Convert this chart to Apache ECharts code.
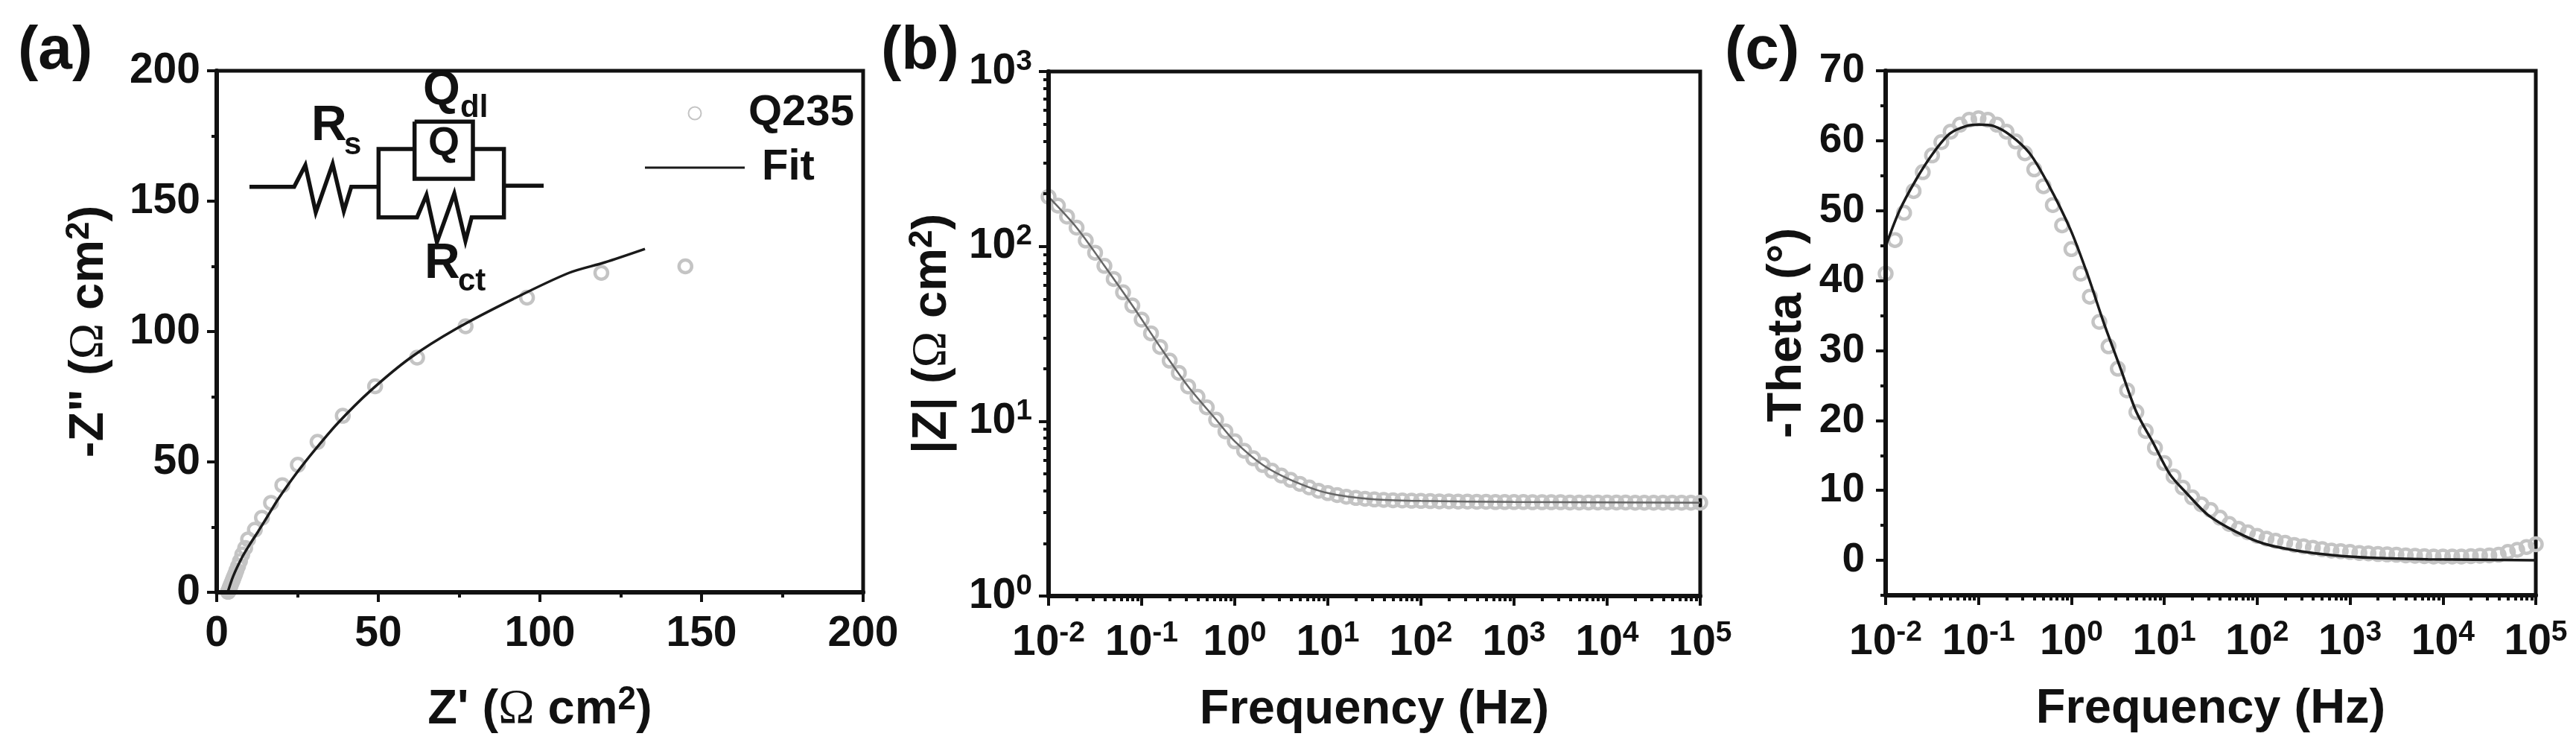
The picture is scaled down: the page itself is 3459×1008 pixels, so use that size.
<!DOCTYPE html>
<html><head><meta charset="utf-8">
<style>html,body{margin:0;padding:0;background:#fff;overflow:hidden}#c{width:3459px;height:1008px}</style>
<script src="https://cdn.jsdelivr.net/npm/echarts@6/dist/echarts.min.js"></script>
</head><body><div id="c"></div>
<script>
// ---------- data ----------
const nyqRe = [145,119,96,77,62,49,39,31.2,25.1,20.3,16.8,14,11.8,9.7,8.8,7.9,7.2,6.6,6.1,5.7,5.3,5,4.7,4.4,4.2,4,3.9,3.8,3.7,3.6,3.5];
const nyqIm = [125,122.5,113,102,90,79,67.7,57.7,48.9,41.1,34.3,28.6,24,20.3,17,14.5,12,10,8.4,7,5.8,4.8,3.9,3,2.3,1.7,1.2,0.8,0.5,0.3,0.2];
const fitNyqRe = [3.4,5.1,7.8,10.1,12.8,15.9,19,24.4,30.5,37.4,47.4,60,74,91.6,109,120,132.5];
const fitNyqIm = [0,6.2,13.3,18.1,23.3,29.5,35.7,45.2,54.8,64.8,77.1,90,101,112.4,122.5,126.5,131.7];
const freq = [0.01,0.0126,0.0158,0.02,0.0251,0.0316,0.0398,0.0501,0.0631,0.0794,
 0.1,0.126,0.158,0.2,0.251,0.316,0.398,0.501,0.631,0.794,
 1,1.26,1.58,2,2.51,3.16,3.98,5.01,6.31,7.94,
 10,12.6,15.8,20,25.1,31.6,39.8,50.1,63.1,79.4,
 100,126,158,200,251,316,398,501,631,794,
 1000,1260,1580,2000,2510,3160,3980,5010,6310,7940,
 10000,12600,15800,20000,25100,31600,39800,50100,63100,79400,100000];
const absZ = [192,171,148,128,108,92,77.4,65.1,54.6,45.9,38.1,31.8,26.6,22.2,18.9,15.8,13.8,12,10.2,8.75,
 7.67,6.78,6.14,5.62,5.21,4.89,4.62,4.38,4.18,4,3.88,3.78,3.7,3.64,3.6,3.57,3.55,3.53,3.52,3.51,
 3.5,3.49,3.48,3.48,3.47,3.47,3.46,3.46,3.45,3.45,3.45,3.45,3.44,3.44,3.44,3.44,3.43,3.43,3.43,3.43,
 3.43,3.43,3.43,3.42,3.42,3.42,3.42,3.42,3.42,3.42,3.42];
const fitZFreq = [0.01,0.02,0.0398,0.0794,0.158,0.316,0.631,1,2,3.98,10,31.6,100,1000,100000];
const fitZ = [192,128,77.4,45.9,26.6,15.8,10.2,7.67,5.62,4.62,3.88,3.57,3.5,3.45,3.42];
const theta = [41,45.8,49.7,52.8,55.5,57.9,59.8,61.3,62.3,63,63.2,63,62.3,61.3,59.9,58.2,55.9,53.5,50.8,47.9,
 44.5,41,37.7,34.1,30.6,27.4,24.3,21.2,18.5,16.1,13.9,12,10.4,9,8,7.2,6.1,5.2,4.5,4,
 3.5,3.1,2.8,2.5,2.2,2,1.8,1.6,1.4,1.3,1.2,1.05,1,0.9,0.85,0.8,0.7,0.65,0.6,0.55,
 0.55,0.55,0.55,0.6,0.65,0.7,0.8,1.2,1.5,1.9,2.3];
const fitThetaFreq = [0.01,0.0141,0.0214,0.0324,0.049,0.0741,0.102,0.145,0.219,0.355,0.562,0.977,1.48,2.24,3.39,5.01,7.59,11.5,17.4,29.5,58.9,117,263,692,1780,6920,100000];
const fitTheta = [44.9,50,54.5,58.2,61,62.1,62.3,62.1,60.8,58.2,53.8,47.3,41,33.9,27.4,21.2,16.8,12.3,9.6,6.5,4.1,2.4,1.4,0.7,0.35,0.15,0];
const thetaMajorTicks = [0,10,20,30,40,50,60,70];
const thetaMinorTicks = [-5,5,15,25,35,45,55,65];
// tick marks for the log axes, placed on hidden helper axes that run in decades
const decadeFactors = [2,3,4,5,6,7,8,9];
const freqDecades = [-2,-1,0,1,2,3,4];
const zDecades = [0,1,2];

// ---------- style ----------
const INK='#111', CIRC='#c4c4c4', FONT='"Liberation Sans"';
const zip=(a,b)=>a.map((v,i)=>[v,b[i]]);
const minorIn=ds=>ds.flatMap(e=>decadeFactors.map(m=>e+Math.log10(m)));
const textRich={t:{fontFamily:FONT,fontWeight:'bold',fontSize:65,color:INK},
  o:{fontFamily:'"Liberation Serif"',fontWeight:'normal',fontSize:65,color:INK},
  s:{fontFamily:FONT,fontWeight:'bold',fontSize:44,color:INK,padding:[0,0,26,0]}};
const nameZ=s=>`{t|${s} (}{o|Ω}{t| cm}{s|2}{t|)}`;
const pow=v=>{const e=Math.round(Math.log10(v));return `{a|10}{b|${e}}`;};
const powRich={a:{fontFamily:FONT,fontWeight:'bold',fontSize:57,color:INK},
  b:{fontFamily:FONT,fontWeight:'bold',fontSize:39,color:INK,padding:[0,0,26,0]}};
const line={onZero:false,lineStyle:{color:INK,width:6}};
const tick=(len)=>({length:len,lineStyle:{color:INK,width:4}});
const grids=[{left:291,top:95,width:868,height:700},{left:1408,top:96,width:875,height:704},{left:2532,top:95,width:873,height:704}]
  .map(g=>({...g,show:true,borderColor:INK,borderWidth:5,backgroundColor:'transparent'}));
const lab={fontFamily:FONT,fontWeight:'bold',fontSize:57,color:INK};
const freqAxis={type:'log',logBase:10,min:0.01,max:100000,position:'bottom',z:10,axisLine:line,axisTick:tick(13),splitLine:{show:false},minorTick:{show:false},
  axisLabel:{formatter:pow,rich:powRich,margin:31,hideOverlap:false,showMinLabel:true,showMaxLabel:true},
  name:'{t|Frequency (Hz)}',nameLocation:'middle',nameGap:121,nameTextStyle:{rich:textRich}};
const helper=(grid,min,max,pos,vals)=>({gridIndex:grid,type:'value',min,max,position:pos,z:10,axisLine:{show:false,onZero:false},axisLabel:{show:false},splitLine:{show:false},
  axisTick:{...tick(7),customValues:vals}});

const xAxis=[
 {gridIndex:0,type:'value',min:0,max:200,interval:50,position:'bottom',z:10,axisLine:line,axisTick:tick(13),splitLine:{show:false},
  minorTick:{show:true,splitNumber:2,length:7,lineStyle:{color:INK,width:4}},axisLabel:{...lab,margin:28},
  name:nameZ("Z'"),nameLocation:'middle',nameGap:123,nameTextStyle:{rich:textRich}},
 {...freqAxis,gridIndex:1},
 {...freqAxis,gridIndex:2},
 helper(1,-2,5,'bottom',minorIn(freqDecades)),
 helper(2,-2,5,'bottom',minorIn(freqDecades))
];
const yAxis=[
 {gridIndex:0,type:'value',min:0,max:200,interval:50,position:'left',z:10,axisLine:line,axisTick:tick(13),splitLine:{show:false},
  minorTick:{show:true,splitNumber:2,length:7,lineStyle:{color:INK,width:4}},axisLabel:{...lab,margin:22},
  name:nameZ('-Z"'),nameLocation:'middle',nameGap:136,nameRotate:90,nameTextStyle:{rich:textRich}},
 {gridIndex:1,type:'log',logBase:10,min:1,max:1000,position:'left',z:10,axisLine:line,axisTick:tick(13),splitLine:{show:false},minorTick:{show:false},
  axisLabel:{formatter:pow,rich:powRich,margin:22,showMinLabel:true,showMaxLabel:true},
  name:nameZ('|Z|'),nameLocation:'middle',nameGap:121,nameRotate:90,nameTextStyle:{rich:textRich}},
 {gridIndex:2,type:'value',min:-5,max:70,position:'left',z:10,axisLine:line,axisTick:{...tick(13),customValues:thetaMajorTicks},splitLine:{show:false},
  axisLabel:{...lab,fontSize:55,margin:28,customValues:thetaMajorTicks},
  name:'{t|-Theta (°)}',nameLocation:'middle',nameGap:99,nameRotate:90,nameTextStyle:{rich:textRich}},
 helper(1,0,3,'left',minorIn(zDecades)),
 helper(2,-5,70,'left',thetaMinorTicks)
];
const dots=(x,y,i)=>({name:'Q235',type:'scatter',xAxisIndex:i,yAxisIndex:i,data:zip(x,y),symbol:'circle',symbolSize:17,clip:false,z:3,
  itemStyle:{color:'rgba(255,255,255,0)',borderColor:CIRC,borderWidth:4.5,opacity:1}});
const fit=(x,y,i,c,w)=>({name:'Fit',type:'line',xAxisIndex:i,yAxisIndex:i,data:zip(x,y),smooth:0.3,symbol:'none',showSymbol:false,clip:false,z:4,
  lineStyle:{color:c,width:w},itemStyle:{color:c}});

// circuit inset and panel letters (annotation, in page pixels)
const C=(zx,zy)=>[280+zx/3,80+zy/3];
const wire=pts=>({type:'polyline',z:20,shape:{points:pts.map(p=>C(p[0],p[1]))},style:{stroke:INK,lineWidth:5.5,fill:null,lineJoin:'miter'}});
const txt=(x,base,s,size,w)=>({type:'text',z:20,x,y:base-0.905*size,style:{text:s,fill:INK,font:`${w||'bold'} ${size}px ${FONT}`}});
const graphic=[
 txt(24,103,'(a)',82),txt(1183,103,'(b)',82),txt(2316,103,'(c)',82),
 wire([[165,512],[345,512],[390,425],[432,615],[500,420],[545,610],[575,512],[685,512]]),
 wire([[830,360],[685,360],[685,635],[840,635],[878,545],[920,735],[990,540],[1035,730],[1060,635],[1190,635],[1190,360],[1065,360]]),
 wire([[1190,508],[1350,508]]),
 wire([[830,250],[1065,250],[1065,480],[830,480],[830,250]]),
 txt(418,197,'R',66),txt(462,212,'s',42),
 txt(568,148,'Q',64),txt(618,162,'dl',42),
 txt(575,215,'Q',54),
 txt(570,382,'R',66),txt(615,395,'ct',42)
];
const chart=echarts.init(document.getElementById('c'),null,{renderer:'canvas'});
chart.setOption({animation:false,backgroundColor:'#fff',grid:grids,xAxis,yAxis,graphic,
 legend:{show:true,left:861,top:118,orient:'vertical',itemWidth:134,itemHeight:17,itemGap:15,selectedMode:false,
  textStyle:{fontFamily:FONT,fontWeight:'bold',fontSize:58,color:INK},
  data:[{name:'Q235'},{name:'Fit',icon:'path://M0,0H0.01V0.01H0ZM0,6.5H134V9.5H0ZM133.99,16H134V15.99H133.99Z',textStyle:{fontFamily:FONT,fontWeight:'bold',fontSize:58,color:INK,padding:[0,0,0,18]}}]},
 series:[
  dots(nyqRe,nyqIm,0),fit(fitNyqRe,fitNyqIm,0,'#1a1a1a',3.5),
  dots(freq,absZ,1),fit(fitZFreq,fitZ,1,'#666',2.5),
  dots(freq,theta,2),fit(fitThetaFreq,fitTheta,2,'#1a1a1a',3.5)
 ]});
</script></body></html>
